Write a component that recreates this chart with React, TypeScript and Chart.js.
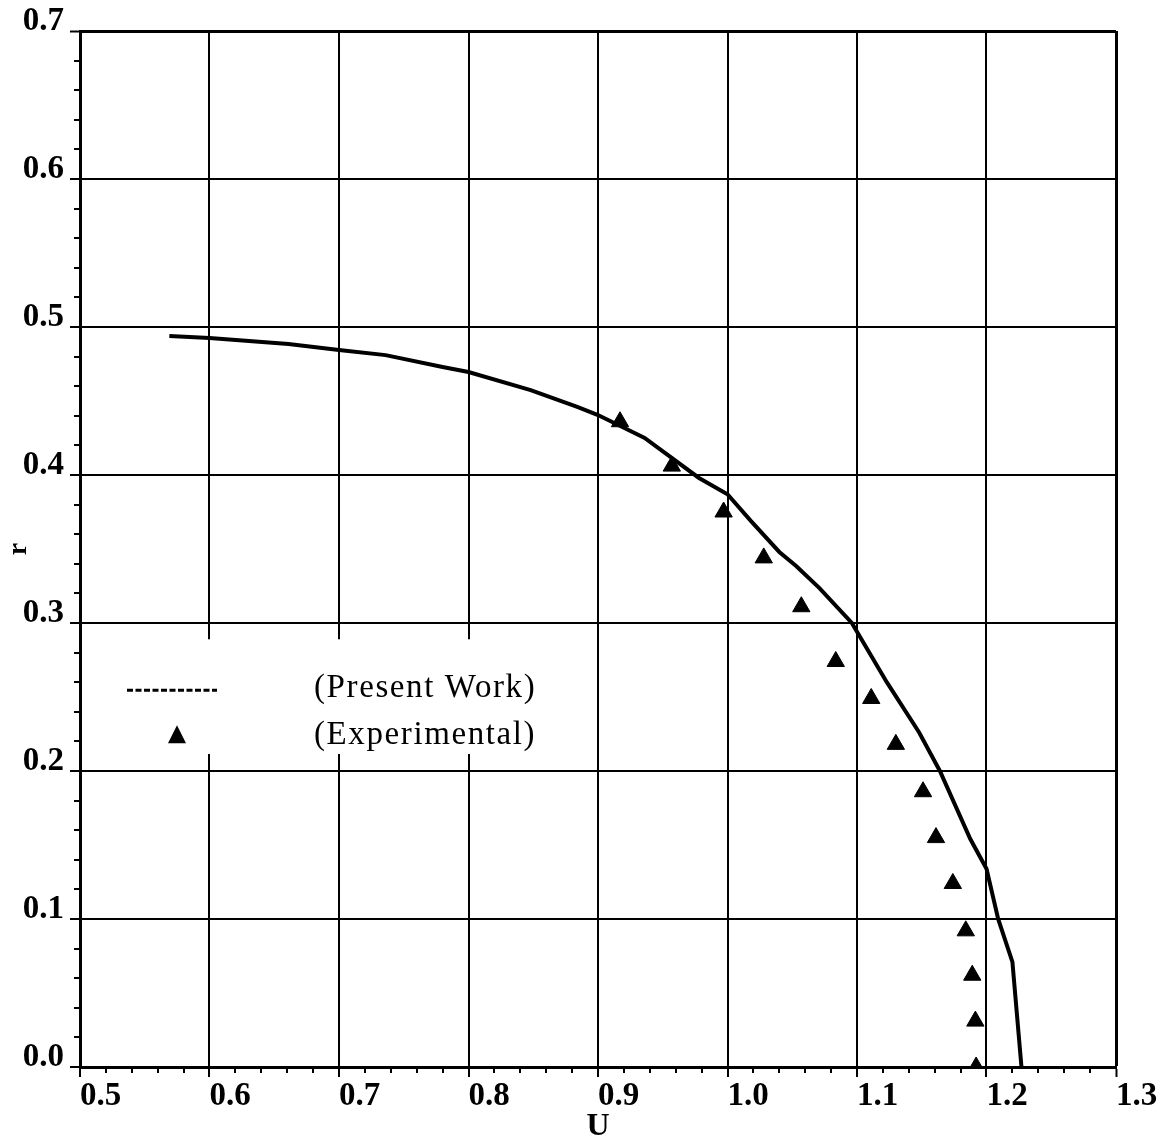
import React, { useEffect, useRef } from 'react';
import { Chart, registerables } from 'chart.js';

Chart.register(...registerables);

// ---- data ----
const xTickValues = [0.5, 0.6, 0.7, 0.8, 0.9, 1.0, 1.1, 1.2, 1.3];
const yTickValues = [0.0, 0.1, 0.2, 0.3, 0.4, 0.5, 0.6, 0.7];
const minorStep = 0.02;

const presentWorkU = [0.569, 0.6, 0.661, 0.7, 0.736, 0.78, 0.8, 0.848, 0.884, 0.9, 0.936, 0.978, 1.0, 1.018, 1.04, 1.053, 1.071, 1.096, 1.123, 1.148, 1.164, 1.1875, 1.2, 1.209, 1.22, 1.227];
const presentWorkR = [0.494, 0.4926, 0.4885, 0.4845, 0.481, 0.473, 0.4696, 0.4574, 0.446, 0.4405, 0.425, 0.398, 0.387, 0.369, 0.348, 0.3385, 0.3236, 0.3, 0.26, 0.226, 0.2, 0.154, 0.134, 0.1, 0.071, 0.0];

const experimentalU = [0.917, 0.957, 0.997, 1.028, 1.057, 1.0836, 1.111, 1.130, 1.151, 1.161, 1.174, 1.184, 1.189, 1.1914, 1.192];
const experimentalR = [0.436, 0.406, 0.375, 0.344, 0.311, 0.274, 0.249, 0.218, 0.186, 0.155, 0.124, 0.092, 0.062, 0.031, 0.0];

const seriesLabels = ['(Present Work)', '(Experimental)'];
const xTitle = 'U';
const yTitle = 'r';

const W = 1165;
const H = 1143;

const tickFont = { family: 'Liberation Serif', size: 33, weight: 'bold' as const };
const titleFont = { family: 'Liberation Serif', size: 32, weight: 'bold' as const };

const isMajor = (v: number, majors: number[]) => majors.some((m) => Math.abs(m - v) < 1e-6);

const minorTicksPlugin = {
  id: 'minorTicks',
  afterDraw(chart: any) {
    const ctx = chart.ctx;
    const xs = chart.scales.x;
    const ys = chart.scales.y;
    const area = chart.chartArea;
    ctx.save();
    ctx.strokeStyle = '#000';
    ctx.lineWidth = 2;
    ctx.beginPath();
    const nx = Math.round((xs.max - xs.min) / minorStep);
    for (let i = 1; i < nx; i++) {
      const v = xs.min + i * minorStep;
      if (isMajor(v, xTickValues)) continue;
      const px = Math.round(xs.getPixelForValue(v));
      ctx.moveTo(px, area.bottom);
      ctx.lineTo(px, area.bottom + 6);
    }
    const ny = Math.round((ys.max - ys.min) / minorStep);
    for (let i = 1; i < ny; i++) {
      const v = ys.min + i * minorStep;
      if (isMajor(v, yTickValues)) continue;
      const py = Math.round(ys.getPixelForValue(v));
      ctx.moveTo(area.left - 6, py);
      ctx.lineTo(area.left, py);
    }
    ctx.stroke();
    ctx.restore();
  },
};

const legendPlugin = {
  id: 'insideLegend',
  afterDatasetsDraw(chart: any) {
    const ctx = chart.ctx;
    const xs = chart.scales.x;
    const ys = chart.scales.y;
    const area = chart.chartArea;
    const boxLeft = area.left + 2;
    const boxRight = xs.getPixelForValue(0.8955);
    const boxTop = ys.getPixelForValue(0.289);
    const boxBottom = ys.getPixelForValue(0.2115);
    ctx.save();
    ctx.fillStyle = '#fff';
    ctx.fillRect(boxLeft, boxTop, boxRight - boxLeft, boxBottom - boxTop);

    const row1 = boxTop + 49;
    const row2 = boxTop + 96;
    // line sample (dashed)
    ctx.strokeStyle = '#000';
    ctx.lineWidth = 3;
    ctx.setLineDash([6, 2.5]);
    ctx.beginPath();
    ctx.moveTo(area.left + 47, row1 + 2);
    ctx.lineTo(area.left + 137, row1 + 2);
    ctx.stroke();
    ctx.setLineDash([]);
    // triangle sample
    const tx = area.left + 97;
    const ty = row2;
    ctx.fillStyle = '#000';
    ctx.beginPath();
    ctx.moveTo(tx, ty - 10);
    ctx.lineTo(tx + 9, ty + 8);
    ctx.lineTo(tx - 9, ty + 8);
    ctx.closePath();
    ctx.fill();
    // texts
    ctx.font = '33px "Liberation Serif"';
    (ctx as any).letterSpacing = '1.6px';
    ctx.textAlign = 'left';
    ctx.textBaseline = 'middle';
    ctx.fillStyle = '#000';
    ctx.fillText(seriesLabels[0], area.left + 234, row1);
    ctx.fillText(seriesLabels[1], area.left + 234, row2);
    ctx.restore();
  },
};

export default function App() {
  const canvasRef = useRef<HTMLCanvasElement | null>(null);

  useEffect(() => {
    const canvas = canvasRef.current;
    if (!canvas) return;
    const lineData = presentWorkU.map((u, i) => ({ x: u, y: presentWorkR[i] }));
    const expData = experimentalU.map((u, i) => ({ x: u, y: experimentalR[i] }));

    const chart = new Chart(canvas, {
      type: 'scatter',
      data: {
        datasets: [
          {
            label: seriesLabels[0],
            data: lineData,
            showLine: true,
            borderColor: '#000',
            backgroundColor: '#000',
            borderWidth: 4,
            pointRadius: 0,
            tension: 0,
          },
          {
            label: seriesLabels[1],
            data: expData,
            showLine: false,
            pointStyle: 'triangle',
            pointRadius: 10,
            borderWidth: 1,
            borderColor: '#000',
            backgroundColor: '#000',
          },
        ],
      },
      options: {
        animation: false,
        responsive: false,
        devicePixelRatio: 1,
        layout: { padding: { left: 0, right: 49, top: 31, bottom: 0 } },
        plugins: {
          legend: { display: false },
          tooltip: { enabled: false },
        },
        scales: {
          x: {
            type: 'linear',
            position: 'bottom',
            min: 0.5,
            max: 1.3,
            afterBuildTicks: (s: any) => {
              s.ticks = xTickValues.map((v) => ({ value: v }));
            },
            afterFit: (s: any) => {
              s.height = 76;
              s.paddingLeft = 0;
              s.paddingRight = 0;
              s.paddingTop = 0;
              s.paddingBottom = 0;
            },
            ticks: {
              align: 'start',
              autoSkip: false,
              maxRotation: 0,
              padding: 0,
              color: '#000',
              font: tickFont,
              callback: (v: any) => Number(v).toFixed(1),
            },
            grid: {
              color: '#000',
              lineWidth: (c: any) => (c.tick && Math.abs(c.tick.value - 1.3) < 1e-6 ? 3 : 2),
              tickLength: 10,
              tickColor: '#000',
              tickWidth: 2,
            },
            border: { display: true, color: '#000', width: 3 },
            title: {
              display: true,
              text: xTitle,
              color: '#000',
              font: titleFont,
              padding: { top: 0, bottom: -3 },
            },
          },
          y: {
            type: 'linear',
            position: 'left',
            min: 0,
            max: 0.7,
            afterBuildTicks: (s: any) => {
              s.ticks = yTickValues.map((v) => ({ value: v }));
            },
            afterFit: (s: any) => {
              s.width = 80;
              s.paddingLeft = 0;
              s.paddingRight = 0;
              s.paddingTop = 0;
              s.paddingBottom = 0;
            },
            ticks: {
              align: 'end',
              autoSkip: false,
              padding: 6,
              labelOffset: 7,
              color: '#000',
              font: tickFont,
              callback: (v: any) => Number(v).toFixed(1),
            },
            grid: {
              color: '#000',
              lineWidth: (c: any) => (c.tick && Math.abs(c.tick.value - 0.7) < 1e-6 ? 3 : 2),
              tickLength: 10,
              tickColor: '#000',
              tickWidth: 2,
            },
            border: { display: true, color: '#000', width: 3 },
            title: {
              display: true,
              text: yTitle,
              color: '#000',
              font: { family: 'Liberation Serif', size: 28, weight: 'bold' },
              padding: { top: 2, bottom: 0 },
            },
          },
        },
      } as any,
      plugins: [minorTicksPlugin, legendPlugin],
    });
    return () => chart.destroy();
  }, []);

  return (
    <div style={{ position: 'absolute', left: 0, top: 0, width: W, height: H, background: '#fff' }}>
      <canvas ref={canvasRef} width={W} height={H} style={{ width: W, height: H, display: 'block' }} />
    </div>
  );
}
